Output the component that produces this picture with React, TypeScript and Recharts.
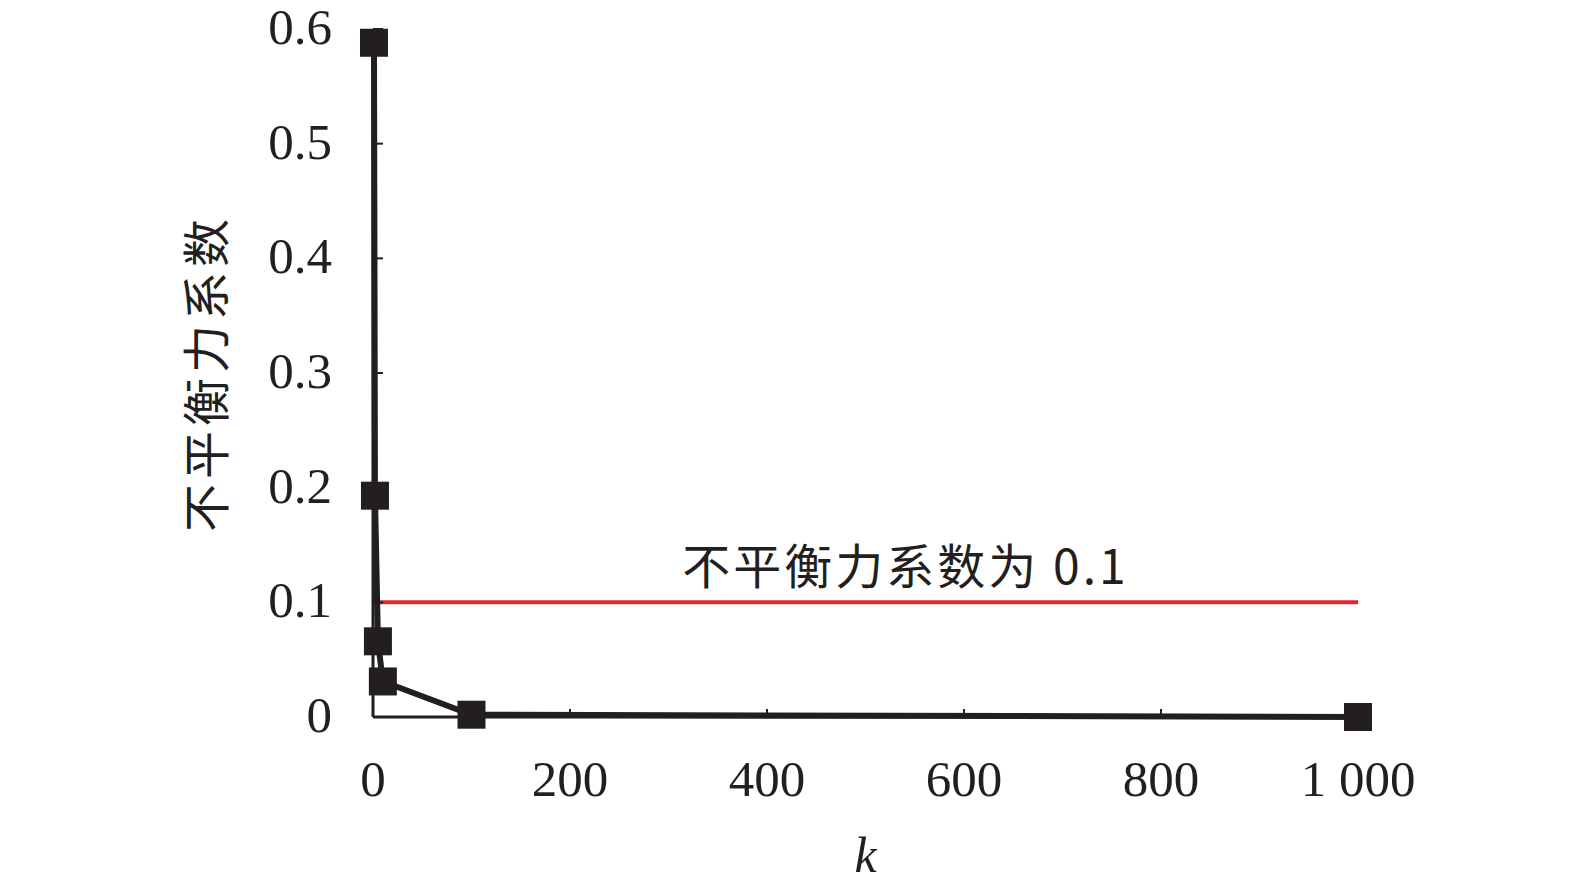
import { LineChart, Line, XAxis, YAxis, ReferenceLine } from "recharts";

// k values and the matching unbalanced-force coefficient
const kValues = [1, 2, 5, 10, 100, 1000];
const coefValues = [0.588, 0.193, 0.066, 0.031, 0.002, 0];

const xTicks = [0, 200, 400, 600, 800, 1000];
const yTicks = [0, 0.1, 0.2, 0.3, 0.4, 0.5, 0.6];
const threshold = 0.1;
const thresholdLabel = "不平衡力系数为 0.1";

const data = kValues.map((k, i) => ({ k, coef: coefValues[i] }));

const ink = "#231f20";
const red = "#e0262b";
const serif = "'Liberation Serif', 'Times New Roman', serif";
const cjk = "'Noto Sans CJK SC', sans-serif";

const SquareDot = (props: any) => {
  const { cx, cy, index } = props;
  if (cx == null || cy == null) return null;
  return <rect key={`dot-${index}`} x={cx - 14} y={cy - 14} width={28} height={28} fill={ink} />;
};

export default function App() {
  return (
    <div style={{ width: 1575, height: 890, background: "#fff" }}>
      <style>{"body{margin:0}"}</style>
      <LineChart
        width={1575}
        height={890}
        data={data}
        margin={{ top: 29, right: 217, left: 0, bottom: 0 }}
      >
        <XAxis
          dataKey="k"
          type="number"
          domain={[0, 1000]}
          ticks={xTicks}
          height={173}
          axisLine={{ stroke: ink, strokeWidth: 3 }}
          tickLine={{ stroke: ink, strokeWidth: 2 }}
          tickSize={-8}
          tickMargin={51}
          tick={{ fill: ink, fontSize: 51, fontFamily: serif }}
          tickFormatter={(v: number) => (v === 1000 ? "1 000" : String(v))}
          label={{
            value: "k",
            position: "insideBottom",
            offset: 18,
            style: { fill: ink, fontSize: 50, fontFamily: serif, fontStyle: "italic" },
          }}
        />
        <YAxis
          type="number"
          domain={[0, 0.6]}
          ticks={yTicks}
          width={373}
          axisLine={{ stroke: ink, strokeWidth: 3 }}
          tickLine={{ stroke: ink, strokeWidth: 2 }}
          tickSize={-10}
          tickMargin={51}
          tick={{ fill: ink, fontSize: 51, fontFamily: serif, dy: -3 }}
          tickFormatter={(v: number) => (v === 0 ? "0" : v.toFixed(1))}
          label={{
            value: "不平衡力系数",
            angle: -90,
            position: "insideLeft",
            offset: 207,
            style: { fill: ink, fontSize: 48, fontFamily: cjk, textAnchor: "middle", letterSpacing: 5 },
          }}
        />
        <ReferenceLine
          segment={[
            { x: 0, y: threshold },
            { x: 1000, y: threshold },
          ]}
          stroke={red}
          strokeWidth={4}
          label={{
            value: thresholdLabel,
            position: "top",
            offset: 18,
            dx: 40,
            style: { fill: ink, fontSize: 48, fontFamily: cjk, letterSpacing: 3 },
          }}
        />
        <Line
          type="linear"
          dataKey="coef"
          stroke={ink}
          strokeWidth={6}
          dot={SquareDot}
          activeDot={false}
          isAnimationActive={false}
        />
      </LineChart>
    </div>
  );
}
